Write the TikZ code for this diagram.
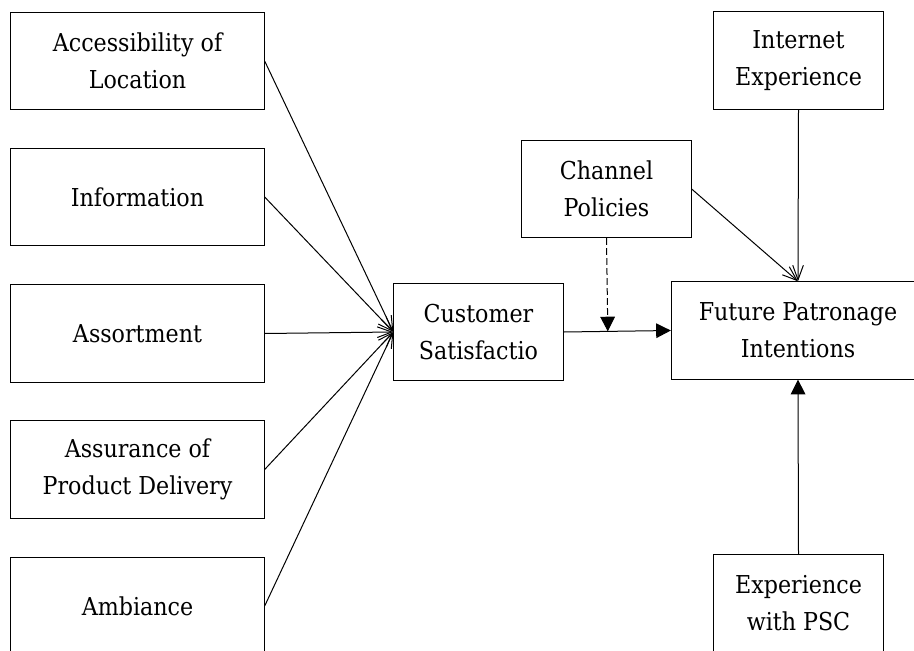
\documentclass[tikz,border=0pt]{standalone}
\usepackage{fontspec}
\setmainfont{DejaVu Serif Condensed}
\usepackage{tikz}
\usetikzlibrary{arrows.meta,calc,positioning}
\tikzset{
    -{Straight Barb[length=11pt,width=8pt]},
    box/.style ={rectangle, draw, align=center, font=\fontsize{18.5}{27.75}\selectfont},
    wide/.style ={box, minimum width=190pt, minimum height=73pt},
    narrow/.style ={box, minimum width=127pt, minimum height=73pt},
    filled/.style ={-{Triangle[length=11pt,width=11pt]}}
}

\begin{document}
\begin{tikzpicture}[x=0.75pt,y=-0.75pt,line width=0.75pt]
        \useasboundingbox (0,0) rectangle (914,650);

        % left column
        \node[wide] (acc) at (137.5, 61) {Accessibility of\\Location};
        \node[wide] (info) at (137.5, 197) {Information};
        \node[wide] (asrt) at (137.5, 333.5) {Assortment};
        \node[wide] (asur) at (137.5, 469.5) {Assurance of\\Product Delivery};
        \node[wide] (amb) at (137.5, 606) {Ambiance};

        % middle and right
        \node[narrow] (cs) at (478.5, 332) {Customer\\Satisfactio};
        \node[narrow] (cp) at (606.5, 189) {Channel\\Policies};
        \node[narrow] (ie) at (798.5, 60.5) {Internet\\Experience};
        \node[wide] (fpi) at (798, 330.5) {Future Patronage\\Intentions};
        \node[narrow] (psc) at (798.5, 603) {Experience\\with PSC};

        \coordinate (mid) at ($(cs.east)!(cp.south)!(fpi.west)$);

        \path (acc.east) edge (cs.west);
        \path (info.east) edge (cs.west);
        \path (asrt.east) edge (cs.west);
        \path (asur.east) edge (cs.west);
        \path (amb.east) edge (cs.west);

        \path (cs.east) edge[filled] (fpi.west);
        \path (cp.south) edge[filled, dash pattern=on 5pt off 2.5pt] (mid);
        \path (cp.east) edge (fpi.north);
        \path (ie.south) edge (fpi.north);
        \path (psc.north) edge[filled] (fpi.south);
    \end{tikzpicture}
\end{document}
